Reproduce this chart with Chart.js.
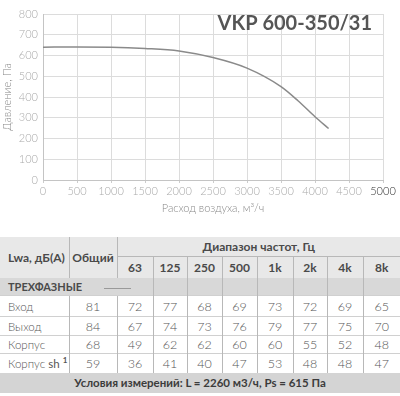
<!DOCTYPE html>
<html>
<head>
<meta charset="utf-8">
<script src="https://cdn.jsdelivr.net/npm/chart.js@4/dist/chart.umd.min.js"></script>
<style>
  body { margin: 0; background: #fff; font-family: 'Lato', sans-serif; }
  #wrap { position: relative; width: 400px; height: 220px; }
  table {
    position: absolute; top: 237px; left: 0;
    width: 400px; border-collapse: collapse; table-layout: fixed;
    font-family: 'Lato', sans-serif; color: #555;
  }
  td, th { padding: 0; text-align: center; font-size: 12px; line-height: 13px; overflow: hidden; }
  th { font-weight: 700; color: #4a4a4a; background: #e8e8e8; }
  .h1 th { height: 19px; }
  .h2 th { height: 21px; border-top: 1px solid #b8b8b8; }
  .vl { border-left: 1px solid #b8b8b8; }
  .grp td { background: #d8d8d8; height: 17px; }
  .grp .name { text-align: left; padding-left: 8px; font-weight: 700; font-size: 11px; color: #4a4a4a; }
  .dash { display: inline-block; width: 27px; border-top: 1px solid #999; vertical-align: middle; margin-left: 22px; }
  .row td { border-top: 1px solid #d0d0d0; font-weight: 300; font-size: 12.5px; }
  .row td.lbl { text-align: left; padding-left: 8px; font-size: 11.5px; }
  .foot td { background: #d4d4d4; height: 20px; font-weight: 700; font-size: 11.5px; color: #3c3c3c; }
</style>
</head>
<body>
<div id="wrap"><canvas id="chart" width="400" height="220"></canvas></div>
<table id="noise"></table>
<script>
// curve data (airflow m3/h -> pressure Pa)
const flow = [0, 500, 1000, 1500, 2000, 2500, 3000, 3500, 3750, 4000, 4200];
const pressure = [640, 641, 640, 634, 622, 590, 539, 450, 382, 305, 248];

// sound power table
const bands = ['63', '125', '250', '500', '1k', '2k', '4k', '8k'];
const rowNames = ['Вход', 'Выход', 'Корпус', 'Корпус <b>sh</b> <sup style="font-size:8px;font-weight:700;line-height:0">1</sup>'];
const totals = [81, 84, 68, 59];
const inlet = [72, 77, 68, 69, 73, 72, 69, 65];
const outlet = [67, 74, 73, 76, 79, 77, 75, 70];
const casing = [49, 62, 62, 60, 60, 55, 52, 48];
const casingSh = [36, 41, 40, 47, 53, 48, 48, 47];

const colWidths = [69, 48, 36, 34, 35, 35, 36, 34, 36, 37];
const rowHeights = [21, 19, 18, 19];

const titlePlugin = {
  id: 'modelTitle',
  afterDraw(chart) {
    const c = chart.ctx;
    c.save();
    c.font = '700 20px Lato';
    c.fillStyle = '#555';
    c.textAlign = 'right';
    c.textBaseline = 'middle';
    c.fillText('VKP 600-350/31', 372, 24);
    c.restore();
  }
};

const ctx = document.getElementById('chart').getContext('2d');
new Chart(ctx, {
  type: 'line',
  data: {
    datasets: [{
      data: flow.map((f, i) => ({ x: f, y: pressure[i] })),
      borderColor: '#8a8a8a',
      borderWidth: 1.5,
      pointRadius: 0,
      cubicInterpolationMode: 'monotone',
      fill: false
    }]
  },
  options: {
    responsive: false,
    animation: false,
    layout: { padding: { top: 14, right: 17, left: 0, bottom: 0 } },
    plugins: { legend: { display: false }, tooltip: { enabled: false } },
    scales: {
      x: {
        type: 'linear',
        min: 0, max: 5000,
        afterFit: (s) => { s.height = 40; },
        ticks: {
          stepSize: 500,
          maxRotation: 0,
          padding: 2,
          callback: (v) => String(v),
          font: { family: 'Lato', size: 11, weight: 300 },
          color: (c) => c.tick && c.tick.value === 5000 ? '#333' : '#aaa'
        },
        grid: { color: '#dcdcdc', tickLength: 3, tickColor: '#ccc' },
        border: { color: '#c4c4c4' },
        title: {
          display: true,
          text: 'Расход воздуха, м³/ч',
          color: '#888',
          font: { family: 'Lato', size: 11, weight: 300 },
          padding: { top: 0, bottom: 5 }
        }
      },
      y: {
        min: 0, max: 800,
        afterFit: (s) => { s.width = 43; },
        ticks: {
          stepSize: 100,
          padding: 5,
          font: { family: 'Lato', size: 11, weight: 300 },
          color: '#aaa'
        },
        grid: { color: '#dcdcdc', drawTicks: false },
        border: { color: '#c4c4c4' },
        title: {
          display: true,
          text: 'Давление, Па',
          color: '#888',
          font: { family: 'Lato', size: 11, weight: 300 },
          padding: { top: 1, bottom: 0 }
        }
      }
    }
  },
  plugins: [titlePlugin]
});

// build table
const table = document.getElementById('noise');
let html = '<colgroup>' + colWidths.map(w => `<col style="width:${w}px">`).join('') + '</colgroup>';
html += '<tr class="h1"><th rowspan="2" style="text-align:left;padding-left:8px">Lwa, дБ(А)</th>' +
  '<th rowspan="2" class="vl">Общий</th>' +
  `<th colspan="${bands.length}" class="vl">Диапазон частот, Гц</th></tr>`;
html += '<tr class="h2">' + bands.map(b => `<th class="vl">${b}</th>`).join('') + '</tr>';
html += '<tr class="grp"><td colspan="3" class="name">ТРЕХФАЗНЫЕ<span class="dash"></span></td>' +
  bands.slice(1).map(() => '<td class="vl"></td>').join('') + '</tr>';
const values = [inlet, outlet, casing, casingSh];
rowNames.forEach((name, i) => {
  html += `<tr class="row" style="height:${rowHeights[i]}px"><td class="lbl">${name}</td><td class="vl">${totals[i]}</td>` +
    values[i].map(v => `<td class="vl">${v}</td>`).join('') + '</tr>';
});
html += `<tr class="foot"><td colspan="${colWidths.length}">Условия измерений: L = 2260 м3/ч, Ps = 615 Па</td></tr>`;
table.innerHTML = html;
</script>
</body>
</html>
